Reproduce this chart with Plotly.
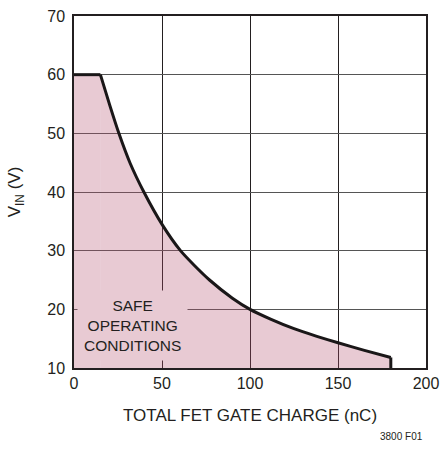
import plotly.graph_objects as go

# Data
flat_q = [0, 15]
flat_v = [60, 60]
curve_q = [15, 20.3, 25.5, 31.9, 39.7, 50.2, 60.5, 68, 77, 90, 100, 112, 125, 138, 150, 165, 180]
curve_v = [60, 54.8, 50, 44.9, 40, 34.4, 30, 27.6, 25.0, 21.9, 20, 18.3, 16.7, 15.4, 14.3, 13.0, 11.8]
end_q = [180, 180]
end_v = [11.8, 10]
x_ticks = [0, 50, 100, 150, 200]
y_ticks = [10, 20, 30, 40, 50, 60, 70]

FONT = "Liberation Sans, Arial, sans-serif"
FILL = "rgba(178,78,108,0.3)"
PINK = "#e8cad3"
LINE = "#1a1718"
TXT = "#231f20"

fig = go.Figure()
fig.add_trace(go.Scatter(x=flat_q, y=flat_v, mode="lines", fill="tozeroy",
                         fillcolor=FILL, line=dict(color=LINE, width=3),
                         hoverinfo="skip", showlegend=False))
fig.add_trace(go.Scatter(x=curve_q, y=curve_v, mode="lines", fill="tozeroy",
                         fillcolor=FILL, line=dict(color=LINE, width=3, shape="spline", smoothing=0.6),
                         hoverinfo="skip", showlegend=False))
fig.add_trace(go.Scatter(x=end_q, y=end_v, mode="lines",
                         line=dict(color=LINE, width=3),
                         hoverinfo="skip", showlegend=False))

fig.add_annotation(x=33.3, y=17.2, xref="x", yref="y",
                   text="SAFE<br>OPERATING<br>CONDITIONS", showarrow=False,
                   font=dict(family=FONT, size=15.5, color=TXT),
                   bgcolor=PINK, borderpad=6)

fig.add_annotation(x=1.0, y=-0.215, xref="paper", yref="paper", xanchor="center",
                   text="3800 F01", showarrow=False, xshift=-25,
                   font=dict(family=FONT, size=10, color=TXT))

axis_common = dict(showline=True, mirror=True, linecolor=TXT, linewidth=1.5,
                   ticks="", zeroline=False, showgrid=True, gridwidth=1,
                   automargin=False,
                   tickfont=dict(family=FONT, size=16, color=TXT))

fig.update_xaxes(range=[0, 200], tickvals=x_ticks, ticktext=[str(t) for t in x_ticks],
                 gridcolor=TXT,
                 title=dict(text="TOTAL FET GATE CHARGE (nC)", standoff=18,
                            font=dict(family=FONT, size=17, color=TXT)),
                 **axis_common)
fig.update_yaxes(range=[10, 70], tickvals=y_ticks, ticktext=[str(t) for t in y_ticks],
                 gridcolor="#555555", ticklabelstandoff=4,
                 title=dict(text="V<sub>IN</sub> (V)", standoff=22,
                            font=dict(family=FONT, size=17, color=TXT)),
                 **axis_common)

fig.update_layout(width=440, height=452, margin=dict(l=74, r=14, t=16, b=84),
                  plot_bgcolor="white", paper_bgcolor="white",
                  font=dict(family=FONT, color=TXT))

fig.write_html("out.html", config={"displayModeBar": False},
               post_script="document.body.style.margin='0';")
